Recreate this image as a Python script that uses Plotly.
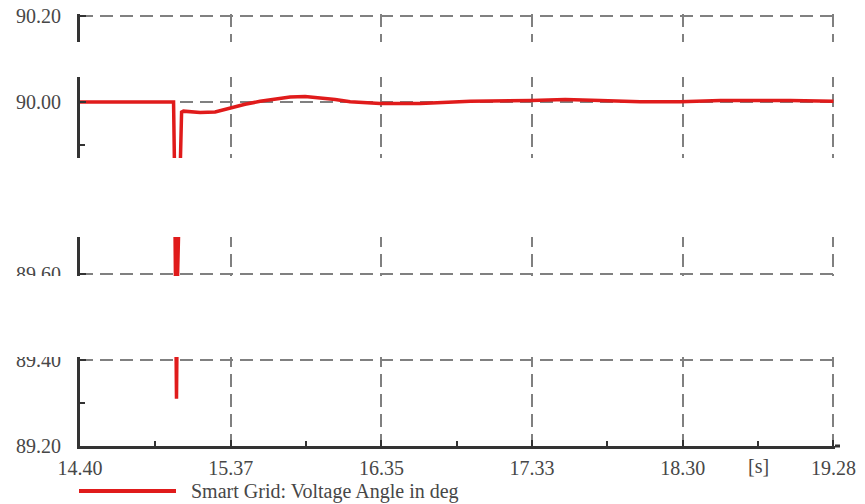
import plotly.graph_objects as go

# ---- data ----
time_s = [14.400, 15.006, 15.012, 15.020, 15.025, 15.032, 15.050, 15.058,
          15.070, 15.178, 15.275, 15.372, 15.469, 15.567, 15.664, 15.761,
          15.858, 15.955, 16.053, 16.150, 16.247, 16.344, 16.604, 16.928,
          17.323, 17.543, 17.770, 18.029, 18.289, 18.548, 19.001, 19.280]
angle_deg = [90.000, 90.000, 89.850, 89.600, 89.310, 89.600, 89.850, 89.977,
             89.979, 89.976, 89.977, 89.986, 89.995, 90.002, 90.008, 90.012,
             90.013, 90.010, 90.006, 90.001, 89.998, 89.997, 89.997, 90.002,
             90.004, 90.006, 90.004, 90.001, 90.001, 90.004, 90.004, 90.002]

x_tickvals = [14.400, 15.376, 16.352, 17.328, 18.304, 19.280]
x_ticktext = ["14.40", "15.37", "16.35", "17.33", "18.30", "19.28"]
x_minorvals = [14.888, 15.864, 16.840, 17.816, 18.792]
y_tickvals = [89.20, 89.40, 89.60, 89.80, 90.00, 90.20]
y_ticktext = ["89.20", "89.40", "89.60", "89.80", "90.00", "90.20"]
y_minorvals = [89.30, 89.50, 89.70, 89.90, 90.10]
series_name = "Smart Grid: Voltage Angle in deg"
unit_label = "[s]"

# ---- layout helpers (pixel geometry) ----
W, H = 865, 504
ML, MR, MT, MB = 80, 30, 14, 58
PW, PH = W - ML - MR, H - MT - MB


def px_x(px):
    return (px - ML) / PW


def px_y(py):
    return (H - MB - py) / PH


FONT = "Liberation Serif"
TXT = "#474747"
AX = "#333333"
GRID = "#808080"
RED = "#e01b1b"

fig = go.Figure()
fig.add_trace(go.Scatter(
    x=time_s, y=angle_deg, mode="lines", name=series_name,
    line=dict(color=RED, width=3.5), showlegend=False,
))

axis_common = dict(
    tickmode="array", ticks="inside", ticklen=6, tickwidth=1.5, tickcolor=AX,
    showline=True, linewidth=3, linecolor=AX, automargin=False,
    showgrid=True, gridcolor=GRID, gridwidth=1.5, griddash="13px,7px",
    zeroline=False, tickfont=dict(family=FONT, size=20, color=TXT),
)

fig.update_xaxes(
    range=[14.40, 19.29], tickvals=x_tickvals, ticktext=x_ticktext,
    ticklabelstandoff=2,
    minor=dict(tickmode="array", tickvals=x_minorvals, ticks="inside",
               ticklen=5, tickwidth=1.5, tickcolor=AX, showgrid=False),
    **axis_common,
)
fig.update_yaxes(
    range=[89.20, 90.205], tickvals=y_tickvals, ticktext=y_ticktext,
    ticklabelstandoff=12,
    minor=dict(tickmode="array", tickvals=y_minorvals, ticks="inside",
               ticklen=5, tickwidth=1.5, tickcolor=AX, showgrid=False),
    **axis_common,
)

shapes = []
# blank horizontal bands present in the reference picture
for top, bot in [(42, 77), (158, 237), (276, 357)]:
    shapes.append(dict(type="rect", xref="paper", yref="paper",
                       x0=px_x(-5), x1=px_x(W + 5), y0=px_y(bot), y1=px_y(top),
                       fillcolor="white", line=dict(width=0), layer="above"))
# x axis line extension past the last tick
shapes.append(dict(type="line", xref="paper", yref="paper",
                   x0=1.0, x1=px_x(840), y0=0, y1=0,
                   line=dict(color=AX, width=3), layer="above"))
# legend sample line
shapes.append(dict(type="line", xref="paper", yref="paper",
                   x0=px_x(79), x1=px_x(176), y0=px_y(491), y1=px_y(491),
                   line=dict(color=RED, width=4), layer="above"))

annotations = [
    dict(text=series_name, xref="paper", yref="paper", x=px_x(189), y=px_y(491),
         xanchor="left", yanchor="middle", showarrow=False,
         font=dict(family=FONT, size=20, color=TXT)),
    dict(text=unit_label, xref="x", yref="paper", x=18.792, y=px_y(466),
         xanchor="center", yanchor="middle", showarrow=False,
         font=dict(family=FONT, size=20, color=TXT)),
]

fig.update_layout(
    width=W, height=H, autosize=False,
    margin=dict(l=ML, r=MR, t=MT, b=MB, pad=0),
    paper_bgcolor="white", plot_bgcolor="white",
    shapes=shapes, annotations=annotations,
)

fig.write_html("out.html")
